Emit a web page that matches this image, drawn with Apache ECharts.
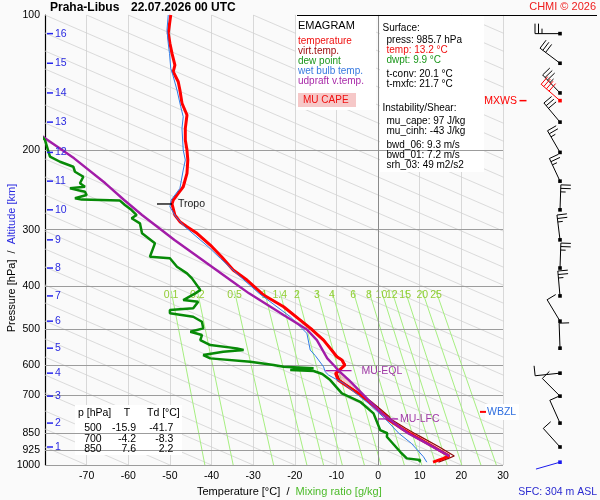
<!DOCTYPE html>
<html><head><meta charset="utf-8">
<script src="https://cdn.jsdelivr.net/npm/echarts@6/dist/echarts.min.js"></script>
<style>html,body{margin:0;padding:0;background:#fafafa;}#c{width:600px;height:500px;}</style>
</head><body><div id="c"></div>
<script>
const FONT = '"Liberation Sans", Arial, Helvetica, sans-serif';

// ---- axes / ticks ----
const pressureTicks = [100,200,300,400,500,600,700,850,925,1000];
const altKm = [16,15,14,13,12,11,10,9,8,7,6,5,4,3,2,1];
const altP  = [110,128,149,173,202,234,271,316,365,421,479,550,625,703,807,912];

// ---- background guide lines ----
const adT1000 = [-80,-70,-60,-50,-40,-30,-20,-10,0,10,20,30,40,50,60,70,80,90,100,110,120,130,140,150,160,170,180,190,200,210,220,230,240,250,260,270,280];
const adT100  = [-330,-320,-310,-300,-290,-280,-270,-260,-250,-240,-230,-220,-210,-200,-190,-180,-170,-160,-150,-140,-130,-120,-110,-100,-90,-80,-70,-60,-50,-40,-30,-20,-10,0,10,20,30];
const mrVals  = ['0.1','0.2','0.5','1','1.4','2','3','4','6','8','10','12','15','20','25'];
const mrT1000 = [-41.6,-34.8,-25.1,-17.1,-13.1,-8.6,-3.3,0.7,6.3,10.5,13.9,16.6,20.1,24.7,28.4];
const mrT410  = [-49.7,-43.4,-34.5,-27.3,-23.6,-19.5,-14.7,-11.1,-6.0,-2.2,0.8,3.3,6.5,10.6,13.9];

// ---- profiles [p hPa, T degC] ----
const tempProfile = [[100,-49.8],[109.8,-50.4],[115.6,-50.0],[121.7,-49.5],[129.2,-48.8],[133.7,-49.2],[140.7,-48.0],[146.8,-47.6],[157.1,-47.1],[166.8,-45.9],[178.6,-46.3],[189.6,-46.3],[199.6,-45.9],[210,-45.7],[224.8,-45.9],[240.8,-46.8],[249.1,-48.0],[257.7,-49.2],[263,-49.5],[278.3,-48.8],[288,-47.6],[295.5,-45.9],[305.6,-43.5],[324.5,-40.3],[344.5,-37.6],[368.8,-34.8],[388.1,-31.5],[419.1,-27.5],[444.9,-22.7],[476.3,-18.7],[500,-15.9],[527.7,-13.1],[550.6,-11.5],[574.8,-9.9],[584.5,-8.7],[600,-8.0],[605,-8.3],[615.2,-9.3],[625.7,-10.2],[647.6,-9.6],[661,-8.2],[687.5,-5.4],[700,-4.2],[723.6,-2.2],[755,0.1],[781.3,2.0],[790,2.2],[829,5.6],[850,7.6],[866,9.1],[911,13.3],[955,17.1],[966.7,15.7],[985.7,13.2]];
const virtTempProfile = [[100,-49.8],[109.8,-50.4],[115.6,-50.0],[121.7,-49.5],[129.2,-48.8],[133.7,-49.2],[140.7,-48.0],[146.8,-47.6],[157.1,-47.1],[166.8,-45.9],[178.6,-46.3],[189.6,-46.3],[199.6,-45.9],[210,-45.7],[224.8,-45.9],[240.8,-46.8],[249.1,-48.0],[257.7,-49.2],[263,-49.5],[278.3,-48.8],[288,-47.6],[295.5,-45.9],[305.6,-43.5],[324.5,-40.3],[344.5,-37.6],[368.8,-34.7],[388.1,-31.4],[419.1,-27.4],[444.9,-22.6],[476.3,-18.6],[500,-15.8],[527.7,-13.0],[550.6,-11.3],[574.8,-9.7],[584.5,-8.5],[600,-7.8],[605,-8.1],[615.2,-9.1],[625.7,-9.9],[647.6,-9.2],[661,-7.8],[687.5,-5.0],[700,-3.7],[723.6,-1.6],[755,0.8],[781.3,2.7],[790,3.0],[829,6.6],[850,8.7],[866,10.3],[911,14.6],[955,18.3],[966.7,16.9],[985.7,14.5]];
const dewProfile = [[183,-81.5],[189.6,-80.0],[206.5,-78.8],[211.9,-76.4],[217.4,-73.2],[223,-72.8],[228.8,-70.8],[236.6,-71.6],[240.8,-70.4],[242.8,-74.0],[247,-70.4],[251.2,-70.0],[255.5,-72.8],[257.2,-71.2],[258.5,-62.0],[264.4,-60.8],[271.3,-59.2],[278.3,-58.0],[283,-59.2],[290.4,-57.2],[305.6,-56.7],[321.7,-53.6],[344.5,-54.8],[347.3,-50.0],[362.6,-48.3],[375.1,-45.9],[384.8,-44.7],[408.5,-42.7],[415.5,-43.9],[430,-46.8],[433.7,-43.2],[448.6,-44.4],[452.5,-50.0],[460.2,-50.0],[468.3,-44.4],[480.4,-42.3],[497,-42.0],[500,-41.7],[505.7,-45.1],[514.3,-42.3],[527.7,-42.7],[541.3,-40.3],[550.6,-33.9],[555.3,-32.3],[560.2,-37.2],[569.7,-42.0],[579.5,-40.3],[589.6,-30.7],[599.6,-25.1],[605,-22.7],[609.9,-15.5],[615.2,-21.1],[618.3,-15.5],[627.9,-13.4],[647.6,-11.5],[693.2,-8.7],[700,-8.3],[723.6,-4.3],[767.8,-1.1],[836.4,0.5],[850,2.2],[865.5,2.1],[934.6,5.3],[966.7,6.9],[975.2,10.1],[985.7,9.9]];
const wetBulbProfile = [[100,-50.4],[108,-50.7],[115.6,-50.4],[121.7,-50.1],[131.4,-49.8],[135.9,-49.3],[146.8,-48.3],[159.9,-47.4],[168.3,-46.8],[178.6,-47.1],[199.6,-46.8],[210,-46.3],[221.1,-46.8],[242.8,-47.6],[257.7,-49.7],[266.7,-50.0],[280.7,-48.6],[295.5,-46.4],[327.3,-40.8],[347.3,-37.9],[381.6,-33.1],[415.5,-28.6],[468.3,-21.1],[509.9,-17.1],[555.3,-16.3],[571.2,-15.1],[605,-13.1],[620.6,-12.7],[631.2,-11.9],[658.6,-8.3],[681.5,-6.3],[729.6,-2.3],[794.6,2.0],[850.6,5.0],[895.3,8.0],[958.8,10.9],[985.7,11.7]];
const parcelProfile = [[180,-82.6],[187.9,-80.0],[208.2,-73.0],[236.6,-65.5],[257.7,-61.0],[278.3,-56.7],[316.3,-48.9],[356.3,-41.1],[388.1,-35.5],[415.5,-31.0],[464.3,-22.7],[500,-17.1],[527.7,-14.7],[579.5,-12.2],[605,-10.3],[617,-9.5],[647.6,-7.0],[700,-3.4],[717.3,-2.3],[767.8,0.9],[790,2.6],[822.4,5.0],[850,7.2],[895.3,11.7],[955.4,17.1]];

// ---- levels / markers ----
const markerNames = ['Tropo','MU-EQL','MU-LFC'];
const markerP = [263, 617, 790];
const markerT = [-49.5, -9.5, 2.6];
const wbzlP = 762;

// ---- wind ----
const windP   = [110,128,149,173,202,234,271,316,365,421,479,550,625,703,807,912];
const windDir = [270,307,316,320,330,335,2,353,2,355,329,358,264,315,336,318];
const windSpd = [25,30,35,30,25,25,25,25,25,25,10,10,10,10,10,10];
const maxWind = {p:155, dir:311, spd:40};
const sfcWind = {p:985.7, dir:254, spd:3};

// ---- text tables ----
const surfaceLines = [['Surface:','#000',0],['press: 985.7 hPa','#000',1],['temp: 13.2 °C','#f01010',1],['dwpt: 9.9 °C','#1a961a',1],['t-conv: 20.1 °C','#000',1],['t-mxfc: 21.7 °C','#000',1],['Instability/Shear:','#000',0],['mu_cape: 97 J/kg','#000',1],['mu_cinh: -43 J/kg','#000',1],['bwd_06: 9.3 m/s','#000',1],['bwd_01: 7.2 m/s','#000',1],['srh_03: 49 m2/s2','#000',1]];
const surfaceY = [28.3,40,50,60,74.3,84.3,108.3,121.7,131,145,155,165];
const tableP = [500,700,850];
const tableT = ['-15.9','-4.2','7.6'];
const tableTd = ['-41.7','-8.3','2.2'];

const C_T = '#ff0000', C_TV = '#8e0a0a', C_TD = '#078a07', C_TW = '#2f7be6', C_PAR = '#a21ca8';

const chart = echarts.init(document.getElementById('c'));
const series = [];
const xy = arr => arr.map(d => [d[1], d[0]]);

adT1000.forEach((t0,i) => series.push({type:'line', xAxisIndex:0, yAxisIndex:0, data:[[t0,1000],[adT100[i],100]], symbol:'none', silent:true, clip:true, z:1, lineStyle:{color:'#d2d2d2', width:0.8}, animation:false}));
mrVals.forEach((w,i) => series.push({type:'line', xAxisIndex:0, yAxisIndex:0, data:[[mrT1000[i],1000],[mrT410[i],410]], symbol:'none', silent:true, clip:true, z:1, lineStyle:{color:'#a6ee80', width:1}, animation:false}));

// pressure grid lines + labels
series.push({type:'line', xAxisIndex:0, yAxisIndex:0, data:[[-200,100]], symbol:'none', silent:true, z:3, animation:false,
  markLine:{silent:true, symbol:['none','none'], animation:false,
    label:{show:true, position:'start', distance:5, color:'#000', fontSize:10.5, fontFamily:FONT, formatter:p=>String(p.value)},
    lineStyle:{color:'#9c9c9c', width:1, type:'solid'},
    data: pressureTicks.map(p => p===100 ? {yAxis:p, lineStyle:{color:'rgba(0,0,0,0)'}} : {yAxis:p}).concat([{xAxis:0, label:{show:false}, lineStyle:{color:'#8a8a8a', width:1}}])
  }});

// CAPE area
series.push({type:'custom', xAxisIndex:0, yAxisIndex:0, z:4, silent:true, data:[[0,700]], animation:false,
  renderItem:(params, api) => {
    const top = markerP[1], bot = markerP[2];
    const a = parcelProfile.filter(d => d[0] >= top && d[0] <= bot).map(d => api.coord([d[1], d[0]]));
    const b = virtTempProfile.filter(d => d[0] >= top - 2 && d[0] <= bot).reverse().map(d => api.coord([d[1], d[0]]));
    return {type:'polygon', shape:{points:a.concat(b)}, style:{fill:'rgba(236,140,130,0.38)'}};
  }});

const prof = (data, color, width, z) => ({type:'line', xAxisIndex:0, yAxisIndex:0, data:xy(data), symbol:'none', showSymbol:false, clip:true, silent:true, z, lineStyle:{color, width}, animation:false});
series.push(prof(virtTempProfile, C_TV, 1.2, 5));
series.push(prof(tempProfile, C_T, 3, 6));
series.push(prof(wetBulbProfile, C_TW, 1, 7));
series.push(prof(parcelProfile, C_PAR, 2.4, 8));
series.push(prof(dewProfile, C_TD, 2.5, 9));

// altitude labels
series.push({type:'custom', xAxisIndex:0, yAxisIndex:0, z:10, silent:true, animation:false, data: altP.map(p => [-80, p]),
  renderItem:(params, api) => {
    const i = params.dataIndex; const pt = api.coord([-80, altP[i]]);
    return {type:'group', children:[
      {type:'line', shape:{x1:pt[0]+2, y1:pt[1], x2:pt[0]+8, y2:pt[1]}, style:{stroke:'#2424ee', lineWidth:1.5}},
      {type:'text', x:pt[0]+10, y:pt[1], style:{text:String(altKm[i]), fill:'#2a2ae0', font:'10.5px '+FONT, textAlign:'left', textVerticalAlign:'middle'}}
    ]};
  }});

// mixing ratio labels
series.push({type:'custom', xAxisIndex:0, yAxisIndex:0, z:2, silent:true, animation:false, data: mrVals.map((w,i) => [mrT410[i], 410]),
  renderItem:(params, api) => {
    const i = params.dataIndex; const pt = api.coord([mrT410[i], 410]);
    return {type:'text', x:pt[0], y:pt[1]+4.5, style:{text:mrVals[i], fill:'#92cc34', font:'10.5px '+FONT, textAlign:'center', textVerticalAlign:'middle'}};
  }});

// level markers
series.push({type:'custom', xAxisIndex:0, yAxisIndex:0, z:11, silent:true, animation:false, data: markerP.map((p,i) => [markerT[i], p]),
  renderItem:(params, api) => {
    const i = params.dataIndex; const pt = api.coord([markerT[i], markerP[i]]);
    const col = i === 0 ? '#000' : '#a21ca8';
    const seg = [[-15,0,6],[-13,13,23],[-11,9,11]][i];
    return {type:'group', children:[
      {type:'line', shape:{x1:pt[0]+seg[0], y1:pt[1], x2:pt[0]+seg[1], y2:pt[1]}, style:{stroke:col, lineWidth:1.3}},
      {type:'text', x:pt[0]+seg[2], y:pt[1], style:{text:markerNames[i], fill:i===0?'#222':'#a03aa6', font:'10.5px '+FONT, textAlign:'left', textVerticalAlign:'middle'}}
    ]};
  }});

// WBZL
series.push({type:'custom', xAxisIndex:0, yAxisIndex:0, z:11, silent:true, animation:false, data:[[30, wbzlP]],
  renderItem:(params, api) => {
    const pt = api.coord([30, wbzlP]);
    return {type:'group', children:[
      {type:'rect', shape:{x:pt[0]-18, y:pt[1]-8, width:34, height:16}, style:{fill:'#ffffff'}},
      {type:'line', shape:{x1:pt[0]-23, y1:pt[1], x2:pt[0]-17, y2:pt[1]}, style:{stroke:'#ff0000', lineWidth:2}},
      {type:'text', x:pt[0]-16, y:pt[1], style:{text:'WBZL', fill:'#2f6fe0', font:'10.5px '+FONT, textAlign:'left', textVerticalAlign:'middle'}}
    ]};
  }});

// wind barbs
const barbs = windP.map((p,i) => ({p, dir:windDir[i], spd:windSpd[i], color:'#000'}));
barbs.push({p:maxWind.p, dir:maxWind.dir, spd:maxWind.spd, color:'#ff0000', label:'MXWS'});
barbs.push({p:sfcWind.p, dir:sfcWind.dir, spd:sfcWind.spd, color:'#1a1aee'});
series.push({type:'custom', xAxisIndex:1, yAxisIndex:1, z:12, silent:true, animation:false, data: barbs.map(b => [0, b.p]),
  renderItem:(params, api) => {
    const b = barbs[params.dataIndex];
    const base = api.coord([0, b.p]);
    const L = 25, r = b.dir*Math.PI/180;
    const sx = Math.sin(r), sy = -Math.cos(r);
    const tip = [base[0]+L*sx, base[1]+L*sy];
    const tx = -sy, ty = sx;
    const ch = [{type:'line', shape:{x1:base[0], y1:base[1], x2:tip[0], y2:tip[1]}, style:{stroke:b.color, lineWidth:1}}];
    const full = Math.floor(b.spd/10), half = (b.spd % 10) >= 5;
    let pos = 0;
    const tick = len => { const px = tip[0]-sx*pos, py = tip[1]-sy*pos;
      ch.push({type:'line', shape:{x1:px, y1:py, x2:px+len*tx, y2:py+len*ty}, style:{stroke:b.color, lineWidth:1}}); pos += 3.5; };
    for (let k=0;k<full;k++) tick(10);
    if (half) tick(5);
    ch.push({type:'rect', shape:{x:base[0]-1.8, y:base[1]-1.8, width:3.6, height:3.6}, style:{fill:b.color}});
    if (b.label) {
      ch.push({type:'line', shape:{x1:base[0]-40.5, y1:base[1], x2:base[0]-33.5, y2:base[1]}, style:{stroke:b.color, lineWidth:1.5}});
      ch.push({type:'text', x:base[0]-43, y:base[1], style:{text:b.label, fill:b.color, font:'10.5px '+FONT, textAlign:'right', textVerticalAlign:'middle'}});
    }
    return {type:'group', children:ch};
  }});

// ---- graphic texts ----
const T = (x, y, text, size, fill, align, bold) => ({type:'text', x, y, z:20, silent:true, style:{text, fill:fill||'#000', font:(bold?'bold ':'')+size+'px '+FONT, textAlign:align||'left', textVerticalAlign:'middle'}});
const graphics = [
  {type:'rect', z:2, silent:true, shape:{x:296, y:15, width:80, height:95}, style:{fill:'#ffffff'}},
  {type:'rect', z:2, silent:true, shape:{x:380, y:15, width:104, height:157}, style:{fill:'#ffffff'}},
  {type:'rect', z:2, silent:true, shape:{x:75, y:405, width:107, height:50}, style:{fill:'#ffffff'}},
  {type:'rect', z:19, silent:true, shape:{x:298, y:93, width:58, height:14}, style:{fill:'#f6c8c8'}},
  {type:'line', z:20, silent:true, shape:{x1:297, y1:15.5, x2:597, y2:15.5}, style:{stroke:'#000', lineWidth:1}},
  T(50, 8, 'Praha-Libus', 12, '#000', 'left', true),
  T(131, 8, '22.07.2026 00 UTC', 12, '#000', 'left', true),
  T(596, 7, 'CHMI © 2026', 11, '#ee1c1c', 'right'),
  T(298, 26, 'EMAGRAM', 11, '#000'),
  T(298, 41.7, 'temperature', 10, '#f01010'),
  T(298, 51.7, 'virt.temp.', 10, '#a01010'),
  T(298, 61.7, 'dew point', 10, '#1a961a'),
  T(298, 71.7, 'wet bulb temp.', 10, '#3779e0'),
  T(298, 81.7, 'udpraft v.temp.', 10, '#a829a8'),
  T(303, 100, 'MU CAPE', 10, '#f01010'),
  T(78, 413.3, 'p [hPa]', 10.5, '#000'),
  T(127, 413.3, 'T', 10.5, '#000', 'center'),
  T(147, 413.3, 'Td [°C]', 10.5, '#000'),
  T(597, 492, 'SFC: 304 m ASL', 10.5, '#2a2ad0', 'right'),
  {type:'text', x:12, y:258, rotation:Math.PI/2, z:20, silent:true, style:{text:'{a|Pressure [hPa]}  /  {b|Altitude [km]}', fill:'#000', font:'11px '+FONT, textAlign:'center', textVerticalAlign:'middle', rich:{a:{fill:'#000', font:'11px '+FONT}, b:{fill:'#2a2ae0', font:'11px '+FONT}}}},
  {type:'text', x:197, y:492, z:20, silent:true, style:{text:'{a|Temperature [°C]}  /  {b|Mixing ratio [g/kg]}', fill:'#000', font:'11px '+FONT, textAlign:'left', textVerticalAlign:'middle', rich:{a:{fill:'#000', font:'11px '+FONT}, b:{fill:'#4cbb2a', font:'11px '+FONT}}}}
];
surfaceLines.forEach((s,i) => graphics.push(T(s[2] ? 386.5 : 382.5, surfaceY[i], s[0], 10, s[1])));
const rowY = [428.3, 438.8, 449];
tableP.forEach((p,i) => {
  graphics.push(T(101.7, rowY[i], String(p), 10.5, '#000', 'right'));
  graphics.push(T(136, rowY[i], tableT[i], 10.5, '#000', 'right'));
  graphics.push(T(173.3, rowY[i], tableTd[i], 10.5, '#000', 'right'));
});

chart.setOption({
  backgroundColor:'#fafafa',
  animation:false,
  grid:[{left:45, right:97, top:15, bottom:35}, {left:503, right:0, top:15, bottom:35}],
  xAxis:[
    {type:'value', gridIndex:0, min:-80, max:30, interval:10, axisLine:{show:false}, axisTick:{show:false},
     axisLabel:{color:'#000', fontSize:10.5, fontFamily:FONT, margin:6, showMinLabel:false, formatter:v => v === -80 ? '' : String(v)},
     splitLine:{show:true, lineStyle:{color:'#d8d8d8', width:1}}},
    {type:'value', gridIndex:1, min:-57, max:40, show:false}
  ],
  yAxis:[
    {type:'log', logBase:10, gridIndex:0, min:100, max:1000, inverse:true, axisLine:{show:true, onZero:false, lineStyle:{color:'#000', width:1.2}}, axisTick:{show:false}, axisLabel:{show:false}, splitLine:{show:false}, minorSplitLine:{show:false}},
    {type:'log', logBase:10, gridIndex:1, min:100, max:1000, inverse:true, show:false}
  ],
  graphic: graphics,
  series
});
</script>
</body></html>
